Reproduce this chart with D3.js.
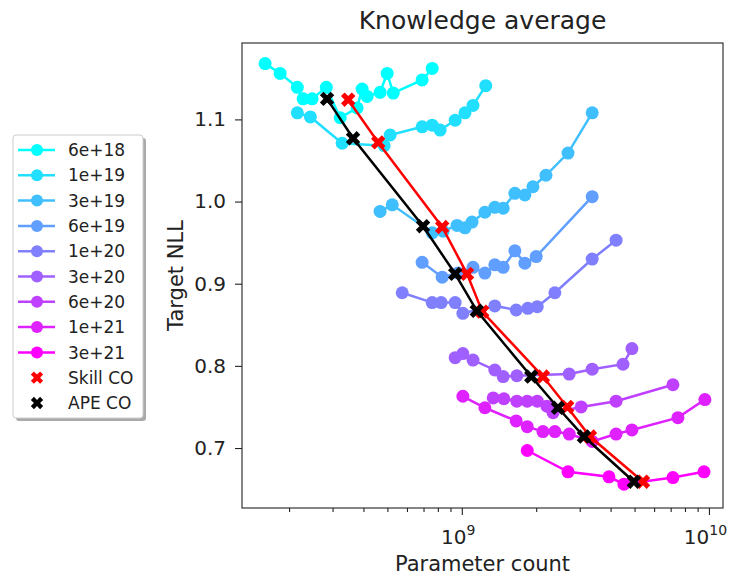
<!DOCTYPE html>
<html>
<head>
<meta charset="utf-8">
<script src="https://cdn.jsdelivr.net/npm/d3@7"></script>
<style>
body { margin: 0; background: #fff; }
svg text { font-family: 'DejaVu Sans', sans-serif; fill: #222; }
</style>
</head>
<body>
<svg width="733" height="576"></svg>
<script>
const svg = d3.select('svg');

// compute budgets (legend order)
const computeLabels = ['6e+18', '1e+19', '3e+19', '6e+19', '1e+20', '3e+20', '6e+20', '1e+21', '3e+21'];

// parameter counts in billions, target NLL
const params6e18 = [0.160, 0.184, 0.216, 0.228, 0.248, 0.283, 0.322, 0.377, 0.395, 0.414, 0.467, 0.499, 0.528, 0.691, 0.759];
const nll6e18 = [1.168, 1.156, 1.139, 1.125, 1.125, 1.139, 1.102, 1.114, 1.137, 1.128, 1.133, 1.156, 1.132, 1.148, 1.162];

const params1e19 = [0.216, 0.244, 0.328, 0.485, 0.513, 0.691, 0.759, 0.817, 0.940, 1.03, 1.11, 1.25];
const nll1e19 = [1.108, 1.103, 1.071, 1.068, 1.081, 1.091, 1.093, 1.087, 1.099, 1.108, 1.117, 1.141];

const params3e19 = [0.467, 0.523, 0.759, 0.840, 0.957, 1.03, 1.10, 1.24, 1.36, 1.47, 1.64, 1.80, 1.94, 2.19, 2.69, 3.37];
const nll3e19 = [0.988, 0.996, 0.962, 0.964, 0.971, 0.968, 0.975, 0.987, 0.993, 0.992, 1.010, 1.008, 1.018, 1.032, 1.059, 1.108];

const params6e19 = [0.691, 0.833, 0.966, 1.11, 1.24, 1.36, 1.47, 1.64, 1.80, 2.00, 3.37];
const nll6e19 = [0.926, 0.908, 0.913, 0.920, 0.913, 0.923, 0.920, 0.940, 0.925, 0.933, 1.006];

const params1e20 = [0.574, 0.759, 0.825, 0.940, 1.01, 1.36, 1.66, 1.85, 2.02, 2.38, 3.37, 4.21];
const nll1e20 = [0.889, 0.877, 0.877, 0.877, 0.864, 0.873, 0.868, 0.870, 0.872, 0.889, 0.930, 0.953];

const params3e20 = [0.940, 1.01, 1.11, 1.36, 1.47, 1.67, 2.72, 3.37, 4.49, 4.88];
const nll3e20 = [0.810, 0.815, 0.807, 0.795, 0.787, 0.788, 0.790, 0.796, 0.802, 0.821];

const params6e20 = [1.34, 1.48, 1.67, 1.84, 2.02, 2.21, 2.34, 3.04, 4.21, 7.15];
const nll6e20 = [0.761, 0.760, 0.757, 0.757, 0.757, 0.751, 0.743, 0.750, 0.757, 0.777];

const params1e21 = [1.01, 1.24, 1.66, 1.84, 2.13, 2.38, 2.72, 3.37, 4.21, 4.88, 7.49, 9.63];
const nll1e21 = [0.763, 0.749, 0.733, 0.726, 0.720, 0.720, 0.717, 0.708, 0.717, 0.722, 0.737, 0.759];

const params3e21 = [1.84, 2.69, 3.94, 4.53, 7.15, 9.55];
const nll3e21 = [0.697, 0.671, 0.665, 0.656, 0.664, 0.671];

// compute-optimal frontiers
const skillParams = [0.347, 0.459, 0.833, 1.05, 1.21, 2.13, 2.67, 3.30, 5.41];
const skillNll = [1.124, 1.072, 0.969, 0.912, 0.866, 0.787, 0.750, 0.714, 0.659];

const apeParams = [0.285, 0.363, 0.697, 0.940, 1.15, 1.91, 2.45, 3.12, 4.97];
const apeNll = [1.125, 1.077, 0.970, 0.912, 0.867, 0.787, 0.749, 0.714, 0.659];

const xTicks = [1e9, 1e10];
const yTicks = [0.7, 0.8, 0.9, 1.0, 1.1];

const seriesParams = [params6e18, params1e19, params3e19, params6e19, params1e20, params3e20, params6e20, params1e21, params3e21];
const seriesNll = [nll6e18, nll1e19, nll3e19, nll6e19, nll1e20, nll3e20, nll6e20, nll1e21, nll3e21];

const toPoints = (ps, ls) => ps.map((p, i) => ({ n: p * 1e9, loss: ls[i] }));

const render = () => {
    const margin = { left: 242, right: 10, top: 43, bottom: 68 };
    const width = +svg.attr('width');
    const height = +svg.attr('height');
    const innerWidth = width - margin.left - margin.right;
    const innerHeight = height - margin.top - margin.bottom;

    const xScale = d3.scaleLog()
        .domain([1.29e8, 1.14e10])
        .range([0, innerWidth]);

    const yScale = d3.scaleLinear()
        .domain([0.627, 1.193])
        .range([innerHeight, 0]);

    // "cool" colormap sampled evenly over the budgets
    const colorScale = d3.scaleLinear()
        .domain([0, computeLabels.length - 1])
        .range(['#00ffff', '#ff00ff'])
        .interpolate(d3.interpolateRgb);

    const g = svg.append('g')
        .attr('transform', `translate(${margin.left},${margin.top})`);

    // minor x ticks
    const minorTicks = [];
    [1e8, 1e9, 1e10].forEach(dec => {
        for (let k = 2; k <= 9; k++) {
            const v = dec * k;
            if (v > xScale.domain()[0] && v < xScale.domain()[1]) minorTicks.push(v);
        }
    });

    const xMinorG = g.append('g')
        .attr('transform', `translate(0,${innerHeight})`)
        .call(d3.axisBottom(xScale).tickValues(minorTicks).tickSize(4).tickFormat(''));
    xMinorG.select('.domain').remove();

    const xAxisG = g.append('g')
        .attr('transform', `translate(0,${innerHeight})`)
        .call(d3.axisBottom(xScale).tickValues(xTicks).tickSize(7).tickPadding(8).tickFormat(() => ''));
    xAxisG.select('.domain').remove();
    xAxisG.selectAll('.tick text')
        .attr('font-size', 20)
        .attr('dy', '1.05em')
        .attr('dx', '-0.2em')
        .each(function (d) {
            const t = d3.select(this);
            t.text('10');
            t.append('tspan')
                .attr('dy', -9)
                .attr('font-size', 14)
                .text(Math.round(Math.log10(d)));
        });

    const yAxisG = g.append('g')
        .call(d3.axisLeft(yScale).tickValues(yTicks).tickSize(7).tickPadding(9).tickFormat(d3.format('.1f')));
    yAxisG.select('.domain').remove();
    yAxisG.selectAll('.tick text').attr('font-size', 20);

    [xMinorG, xAxisG, yAxisG].forEach(a => a.selectAll('.tick line').attr('stroke', '#222').attr('stroke-width', 1.1));

    const line = d3.line()
        .x(d => xScale(d.n))
        .y(d => yScale(d.loss));

    // one curve per compute budget
    seriesParams.forEach((ps, i) => {
        const pts = toPoints(ps, seriesNll[i]);
        const color = colorScale(i);
        const sg = g.append('g');
        sg.append('path')
            .attr('d', line(pts))
            .attr('fill', 'none')
            .attr('stroke', color)
            .attr('stroke-width', 2.5);
        sg.selectAll('circle').data(pts)
            .enter().append('circle')
            .attr('cx', d => xScale(d.n))
            .attr('cy', d => yScale(d.loss))
            .attr('r', 6.5)
            .attr('fill', color);
    });

    const xSymbol = d3.symbol().type(d3.symbolCross).size(130);

    const frontier = (ps, ls, color) => {
        const pts = toPoints(ps, ls);
        const fg = g.append('g');
        fg.append('path')
            .attr('d', line(pts))
            .attr('fill', 'none')
            .attr('stroke', color)
            .attr('stroke-width', 2.5);
        fg.selectAll('path.mark').data(pts)
            .enter().append('path')
            .attr('class', 'mark')
            .attr('d', xSymbol)
            .attr('transform', d => `translate(${xScale(d.n)},${yScale(d.loss)}) rotate(45)`)
            .attr('fill', color);
    };
    frontier(skillParams, skillNll, '#ff0000');
    frontier(apeParams, apeNll, '#000000');

    g.append('rect')
        .attr('width', innerWidth)
        .attr('height', innerHeight)
        .attr('fill', 'none')
        .attr('stroke', '#222')
        .attr('stroke-width', 1.1);

    g.append('text')
        .attr('x', innerWidth / 2)
        .attr('y', -14)
        .attr('text-anchor', 'middle')
        .attr('font-size', 25)
        .text('Knowledge average');

    g.append('text')
        .attr('x', innerWidth / 2)
        .attr('y', innerHeight + 63)
        .attr('text-anchor', 'middle')
        .attr('font-size', 21)
        .text('Parameter count');

    g.append('text')
        .attr('transform', `translate(-59,${innerHeight / 2}) rotate(-90)`)
        .attr('text-anchor', 'middle')
        .attr('font-size', 21)
        .text('Target NLL');

    // legend
    const legend = svg.append('g').attr('transform', 'translate(13,135)');
    legend.append('rect')
        .attr('x', 3).attr('y', 3)
        .attr('width', 130).attr('height', 283)
        .attr('rx', 3)
        .attr('fill', '#aaa');
    legend.append('rect')
        .attr('width', 130).attr('height', 283)
        .attr('rx', 3)
        .attr('fill', '#fff')
        .attr('stroke', '#ccc');

    const rowY = i => 15 + i * 25.3;
    computeLabels.forEach((label, i) => {
        const color = colorScale(i);
        const row = legend.append('g').attr('transform', `translate(0,${rowY(i)})`);
        row.append('line')
            .attr('x1', 5).attr('x2', 42)
            .attr('stroke', color)
            .attr('stroke-width', 2.5);
        row.append('circle')
            .attr('cx', 24).attr('r', 6)
            .attr('fill', color);
        row.append('text')
            .attr('x', 55).attr('dy', '0.36em')
            .attr('font-size', 17)
            .text(label);
    });
    [['Skill CO', '#ff0000'], ['APE CO', '#000000']].forEach(([label, color], j) => {
        const row = legend.append('g').attr('transform', `translate(0,${rowY(9 + j)})`);
        row.append('path')
            .attr('d', d3.symbol().type(d3.symbolCross).size(95))
            .attr('transform', 'translate(24,0) rotate(45)')
            .attr('fill', color);
        row.append('text')
            .attr('x', 55).attr('dy', '0.36em')
            .attr('font-size', 17)
            .text(label);
    });
};

render();
</script>
</body>
</html>
